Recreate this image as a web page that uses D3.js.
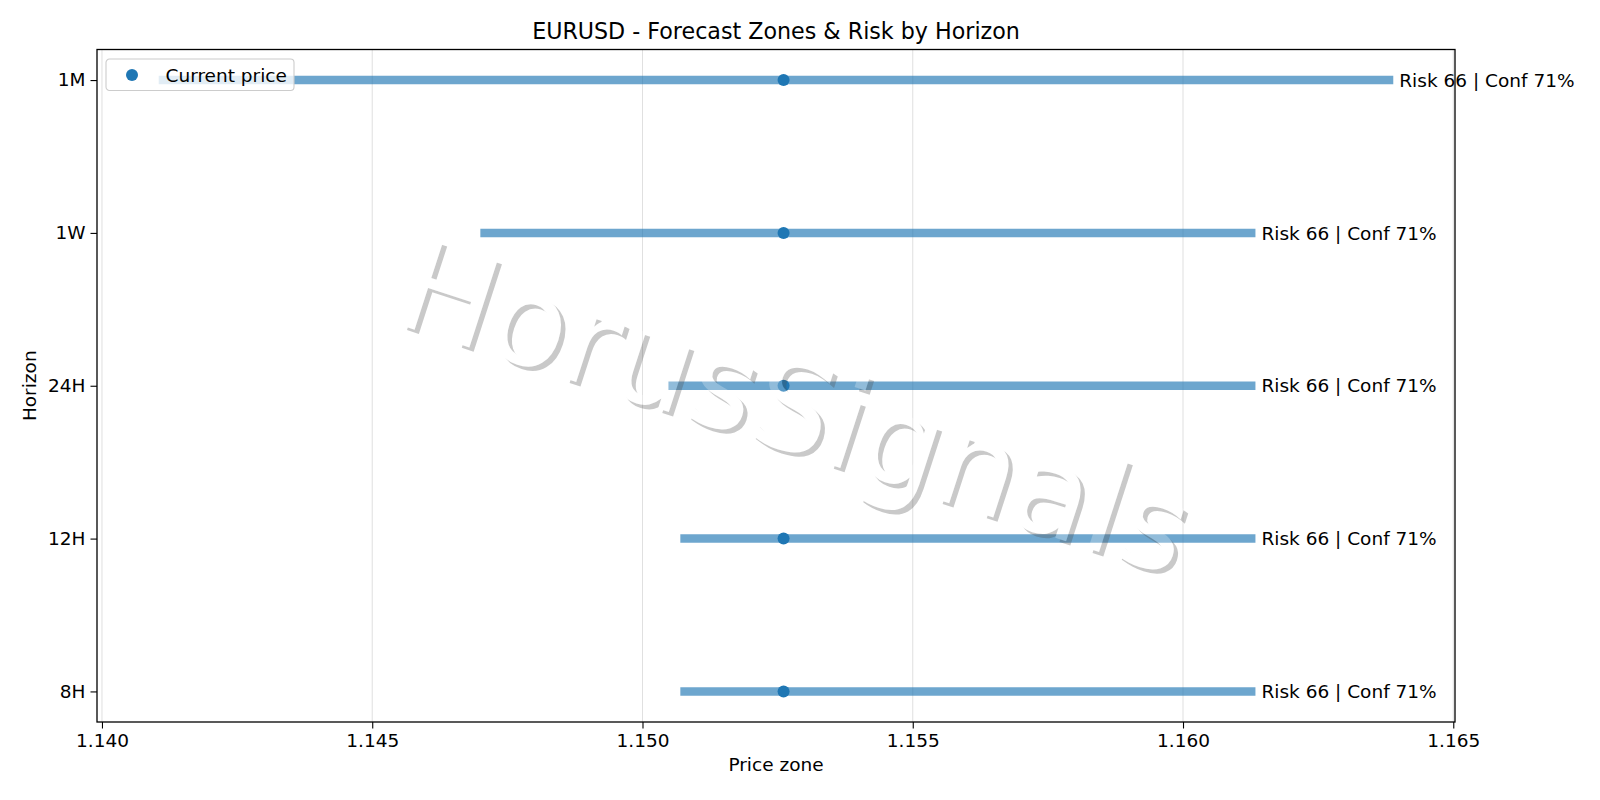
<!DOCTYPE html>
<html>
<head>
<meta charset="utf-8">
<script src="https://cdn.jsdelivr.net/npm/d3@7"></script>
<style>
  html, body { margin: 0; padding: 0; background: #fff; }
  svg { display: block; font-family: "DejaVu Sans", sans-serif; }
</style>
</head>
<body>
<svg id="chart" width="1600" height="800"></svg>
<script>
// ---- data ----
const horizons = ["8H", "12H", "24H", "1W", "1M"];
const zoneLow  = [1.15070, 1.15070, 1.15048, 1.14700, 1.14105];
const zoneHigh = [1.16134, 1.16134, 1.16134, 1.16134, 1.16389];
const currentPrice = [1.15261, 1.15261, 1.15261, 1.15261, 1.15261];
const riskScore = [66, 66, 66, 66, 66];
const confidence = [71, 71, 71, 71, 71];
const xTicks = [1.140, 1.145, 1.150, 1.155, 1.160, 1.165];
const titleText = "EURUSD - Forecast Zones & Risk by Horizon";
const xLabel = "Price zone";
const yLabel = "Horizon";
const legendLabel = "Current price";
const watermark = "HorusSignals";

// ---- layout ----
const svg = d3.select("#chart");
const W = 1600, H = 800;
const box = { left: 97, right: 1455, top: 49.5, bottom: 722 };
const blue = "#1f77b4";
const fontPx = 18.5;

const xmin = d3.min(zoneLow), xmax = d3.max(zoneHigh);
const pad = (xmax - xmin) * 0.05;
const x = d3.scaleLinear().domain([xmin - pad, xmax + pad]).range([box.left, box.right]);
const y = d3.scaleLinear().domain([-0.2, horizons.length - 1 + 0.2]).range([box.bottom, box.top]);

svg.append("rect").attr("width", W).attr("height", H).attr("fill", "#fff");

// grid
svg.append("g").selectAll("line").data(xTicks).join("line")
  .attr("x1", d => x(d)).attr("x2", d => x(d))
  .attr("y1", box.top).attr("y2", box.bottom)
  .attr("stroke", "#b0b0b0").attr("stroke-opacity", 0.4).attr("stroke-width", 1);

const data = horizons.map((h, i) => ({ h, i, lo: zoneLow[i], hi: zoneHigh[i], cur: currentPrice[i], risk: riskScore[i], conf: confidence[i] }));

// zone bars
svg.append("g").selectAll("line").data(data).join("line")
  .attr("x1", d => x(d.lo)).attr("x2", d => x(d.hi))
  .attr("y1", d => y(d.i)).attr("y2", d => y(d.i))
  .attr("stroke", blue).attr("stroke-opacity", 0.65)
  .attr("stroke-width", 8.5).attr("stroke-linecap", "butt");

// current price dots
svg.append("g").selectAll("circle").data(data).join("circle")
  .attr("cx", d => x(d.cur)).attr("cy", d => y(d.i)).attr("r", 6)
  .attr("fill", blue);

// labels
svg.append("g").selectAll("text").data(data).join("text")
  .attr("x", d => x(d.hi) + 6).attr("y", d => y(d.i))
  .attr("dy", "0.36em")
  .attr("font-size", fontPx).attr("fill", "#000")
  .text(d => `Risk ${d.risk} | Conf ${d.conf}%`);

// watermark
const defs = svg.append("defs");
const wmX = 391, wmY = 322, wmRot = 18, wmSize = 126, sh = 4.3;
const mask = defs.append("mask").attr("id", "wmmask")
  .attr("maskUnits", "userSpaceOnUse").attr("x", 0).attr("y", 0).attr("width", W).attr("height", H);
mask.append("rect").attr("width", W).attr("height", H).attr("fill", "#fff");
mask.append("text")
  .attr("transform", `translate(${wmX},${wmY}) rotate(${wmRot})`)
  .attr("text-anchor", "start").attr("font-size", wmSize).attr("fill", "#000")
  .text(watermark);
svg.append("g").attr("mask", "url(#wmmask)")
  .append("text")
  .attr("transform", `translate(${wmX + sh},${wmY + sh}) rotate(${wmRot})`)
  .attr("text-anchor", "start").attr("font-size", wmSize)
  .attr("fill", "rgb(77,77,77)").attr("fill-opacity", 0.3)
  .text(watermark);
svg.append("text")
  .attr("transform", `translate(${wmX},${wmY}) rotate(${wmRot})`)
  .attr("text-anchor", "start").attr("font-size", wmSize)
  .attr("fill", "#fff").attr("fill-opacity", 0.25)
  .text(watermark);

// axes
const xAxis = d3.axisBottom(x).tickValues(xTicks).tickFormat(d3.format(".3f")).tickSize(6.5).tickPadding(5);
const gx = svg.append("g").attr("transform", `translate(0,${box.bottom})`).call(xAxis);
gx.select(".domain").remove();
gx.selectAll(".tick line").attr("stroke", "#000").attr("stroke-width", 1.1);
gx.selectAll(".tick text").attr("font-size", fontPx).attr("font-family", "DejaVu Sans").attr("fill", "#000");

const yAxis = d3.axisLeft(y).tickValues(d3.range(horizons.length)).tickFormat(i => horizons[i]).tickSize(6.5).tickPadding(5);
const gy = svg.append("g").attr("transform", `translate(${box.left},0)`).call(yAxis);
gy.select(".domain").remove();
gy.selectAll(".tick line").attr("stroke", "#000").attr("stroke-width", 1.1);
gy.selectAll(".tick text").attr("font-size", fontPx).attr("font-family", "DejaVu Sans").attr("fill", "#000");

svg.append("rect")
  .attr("x", box.left).attr("y", box.top)
  .attr("width", box.right - box.left).attr("height", box.bottom - box.top)
  .attr("fill", "none").attr("stroke", "#000").attr("stroke-width", 1.3);

// titles
svg.append("text").attr("x", (box.left + box.right) / 2).attr("y", 38.5)
  .attr("text-anchor", "middle").attr("font-size", 22.2).attr("fill", "#000").text(titleText);
svg.append("text").attr("x", (box.left + box.right) / 2).attr("y", 771)
  .attr("text-anchor", "middle").attr("font-size", fontPx).attr("fill", "#000").text(xLabel);
svg.append("text").attr("transform", `translate(36,${(box.top + box.bottom) / 2}) rotate(-90)`)
  .attr("text-anchor", "middle").attr("font-size", fontPx).attr("fill", "#000").text(yLabel);

// legend
const lg = svg.append("g").attr("transform", "translate(106,59)");
lg.append("rect").attr("width", 188).attr("height", 31.5).attr("rx", 3.5)
  .attr("fill", "#fff").attr("fill-opacity", 0.8)
  .attr("stroke", "#cccccc").attr("stroke-width", 1.1);
lg.append("circle").attr("cx", 26).attr("cy", 16).attr("r", 6).attr("fill", blue);
lg.append("text").attr("x", 59.5).attr("y", 16).attr("dy", "0.36em")
  .attr("font-size", fontPx).attr("fill", "#000").text(legendLabel);
</script>
</body>
</html>
